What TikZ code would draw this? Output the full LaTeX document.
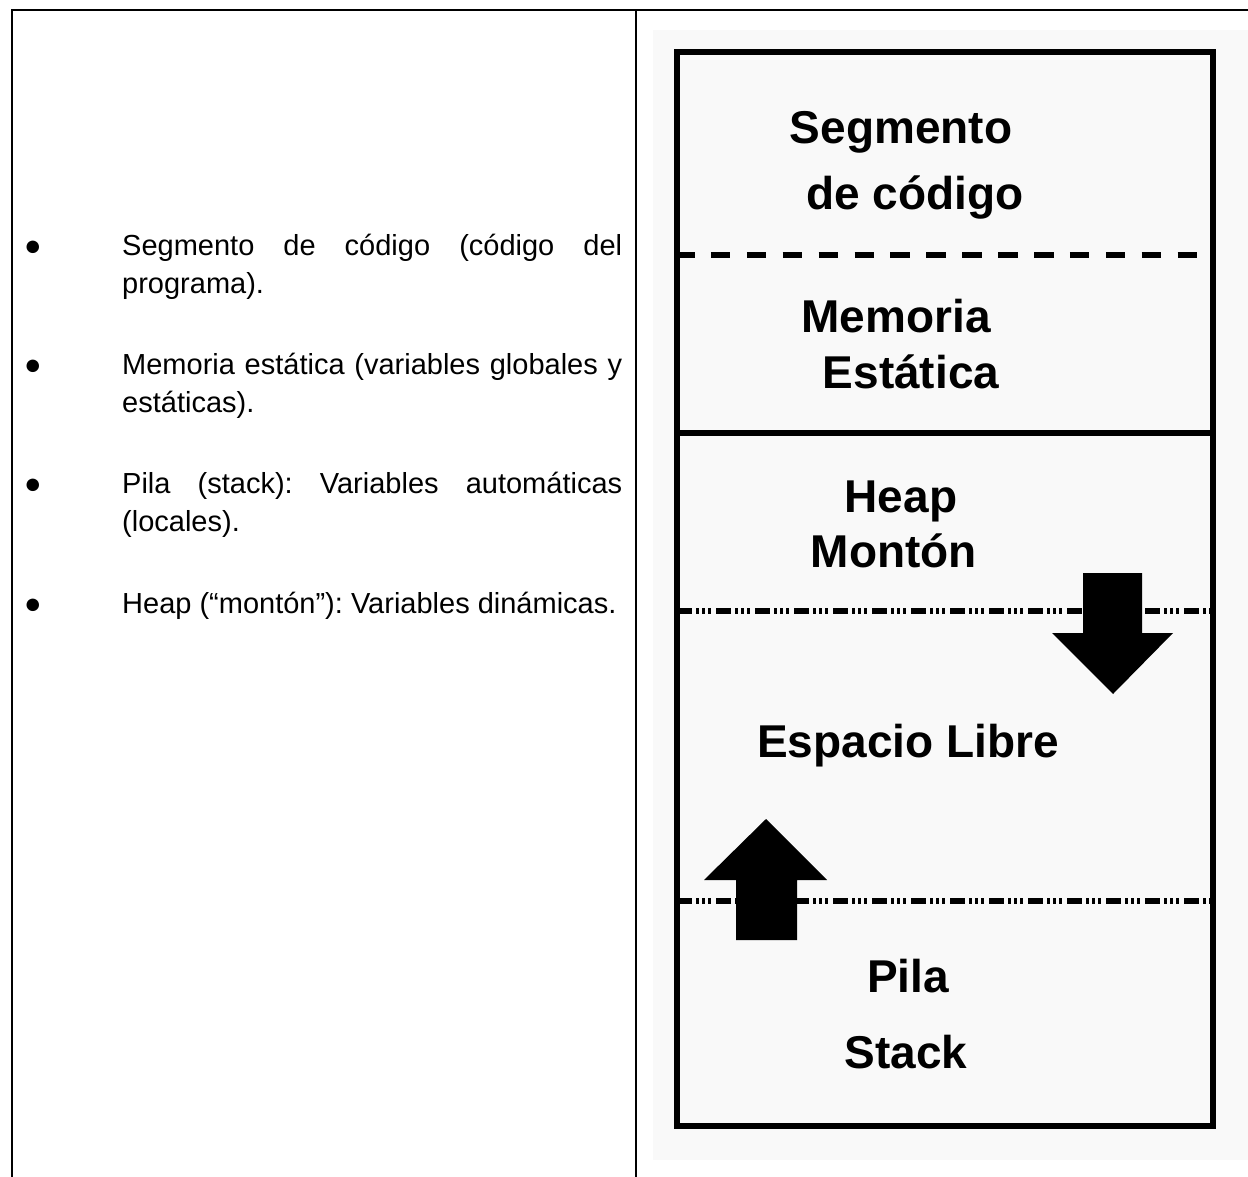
\documentclass[tikz,border=0pt]{standalone}
\usepackage{fontspec}
\setmainfont{Liberation Sans}
\frenchspacing
\definecolor{memcolor0000}{RGB}{249,249,249}
\definecolor{memcolor0001}{RGB}{0,0,0}
\begin{document}
\begin{tikzpicture}[yscale=-1
,pstyle1/.style={color=memcolor0001,line width=2.5pt}
,pstyle2/.style={color=memcolor0001,line width=6pt}
,pstyle3/.style={color=memcolor0001,line width=6pt,dash pattern=on 19.5pt off 16.4pt}
,pstyle4/.style={color=memcolor0001,line width=6pt,dash pattern=on 15pt off 4pt on 3pt off 3pt on 3pt off 3pt on 3pt off 5pt}
,pstyle5/.style={fill=memcolor0001,draw=none}
,tstyle1/.style={anchor=base west,inner sep=0pt,align=left,color=memcolor0001,font=\fontsize{29pt}{38pt}\selectfont}
,tstyle2/.style={anchor=base,inner sep=0pt,color=memcolor0001,font=\fontsize{46pt}{55pt}\selectfont\bfseries}
,tstyle3/.style={anchor=base,inner sep=0pt,color=memcolor0001,font=\fontsize{29pt}{38pt}\selectfont}
]
\useasboundingbox (0pt,0pt) rectangle (1248pt,1177pt);
\draw[pstyle1] (12.2pt,1177pt) -- (12.2pt,9.8pt) -- (1248pt,9.8pt);
\draw[pstyle1] (636pt,9.8pt) -- (636pt,1177pt);
\fill[memcolor0000] (652.7pt,30pt) rectangle (1248pt,1160pt);
\draw[pstyle2] (676.5pt,52.5pt) rectangle (1213pt,1125.5pt);
\draw[pstyle3] (675pt,255pt) -- (1198pt,255pt);
\draw[pstyle2] (676.5pt,432.5pt) -- (1213pt,432.5pt);
\draw[pstyle4] (677pt,611pt) -- (1210pt,611pt);
\draw[pstyle4] (677pt,901pt) -- (1210pt,901pt);
\fill[pstyle5] (1083pt,573pt) -- (1142pt,573pt) -- (1142pt,633pt) -- (1173pt,633pt) -- (1113pt,694pt) -- (1052pt,633pt) -- (1083pt,633pt) -- cycle;
\fill[pstyle5] (736pt,940pt) -- (797pt,940pt) -- (797pt,880pt) -- (827pt,880pt) -- (766pt,819pt) -- (704pt,880pt) -- (736pt,880pt) -- cycle;
\node[tstyle2] (seg1) at (901pt,143.5pt) {Segmento};
\node[tstyle2] (seg2) at (915pt,209.5pt) {de código};
\node[tstyle2] (mem1) at (896pt,332.5pt) {Memoria};
\node[tstyle2] (mem2) at (911pt,388.5pt) {Estática};
\node[tstyle2] (heap1) at (901pt,512.5pt) {Heap};
\node[tstyle2] (heap2) at (894pt,567.5pt) {Montón};
\node[tstyle2] (libre) at (908pt,757.5pt) {Espacio Libre};
\node[tstyle2] (pila1) at (908pt,992.5pt) {Pila};
\node[tstyle2] (pila2) at (906pt,1068.5pt) {Stack};
\node[tstyle3] (bul1) at (33pt,255.5pt) {●};
\node[tstyle1] (item1) at (122pt,293.5pt) {\makebox[500pt][s]{Segmento de código (código del}\\programa).};
\node[tstyle3] (bul2) at (33pt,374.5pt) {●};
\node[tstyle1] (item2) at (122pt,412.5pt) {\makebox[500pt][s]{Memoria estática (variables globales y}\\estáticas).};
\node[tstyle3] (bul3) at (33pt,493.5pt) {●};
\node[tstyle1] (item3) at (122pt,531.5pt) {\makebox[500pt][s]{Pila (stack): Variables automáticas}\\(locales).};
\node[tstyle3] (bul4) at (33pt,613.5pt) {●};
\node[tstyle1] (item4) at (122pt,613.5pt) {Heap (“montón”): Variables dinámicas.};
\end{tikzpicture}
\end{document}
